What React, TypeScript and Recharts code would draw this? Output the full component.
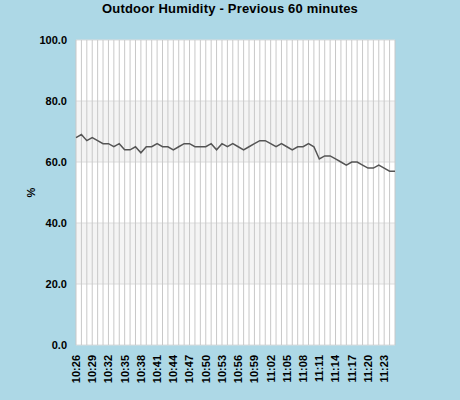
import React from "react";
import {
  LineChart,
  Line,
  XAxis,
  YAxis,
  CartesianGrid,
} from "recharts";

// minute stamps, 10:26 .. 11:25
const times = [
  "10:26", "10:27", "10:28", "10:29", "10:30", "10:31", "10:32", "10:33", "10:34", "10:35",
  "10:36", "10:37", "10:38", "10:39", "10:40", "10:41", "10:42", "10:43", "10:44", "10:45",
  "10:46", "10:47", "10:48", "10:49", "10:50", "10:51", "10:52", "10:53", "10:54", "10:55",
  "10:56", "10:57", "10:58", "10:59", "11:00", "11:01", "11:02", "11:03", "11:04", "11:05",
  "11:06", "11:07", "11:08", "11:09", "11:10", "11:11", "11:12", "11:13", "11:14", "11:15",
  "11:16", "11:17", "11:18", "11:19", "11:20", "11:21", "11:22", "11:23", "11:24", "11:25",
];

// outdoor humidity, %
const humidity = [
  68, 69, 67, 68, 67, 66, 66, 65, 66, 64,
  64, 65, 63, 65, 65, 66, 65, 65, 64, 65,
  66, 66, 65, 65, 65, 66, 64, 66, 65, 66,
  65, 64, 65, 66, 67, 67, 66, 65, 66, 65,
  64, 65, 65, 66, 65, 61, 62, 62, 61, 60,
  59, 60, 60, 59, 58, 58, 59, 58, 57, 57,
];

const yTicks = [0, 20, 40, 60, 80, 100];

const FONT = "'Liberation Sans', Arial, sans-serif";

const data = times.map((t, i) => ({ time: t, humidity: humidity[i] }));

function TimeTick({ x, y, payload }: any) {
  return (
    <g transform={`translate(${x},${y})`}>
      <text
        transform="rotate(-90)"
        textAnchor="end"
        dy="0.35em"
        fontFamily={FONT}
        fontSize={11}
        fontWeight="bold"
        fill="#000"
      >
        {payload.value}
      </text>
    </g>
  );
}

const NoTick = () => <g />;

export default function App() {
  return (
    <div
      style={{
        position: "absolute",
        left: 0,
        top: 0,
        width: 460,
        height: 400,
        background: "#add8e6",
        fontFamily: FONT,
      }}
    >
      <div
        style={{
          position: "absolute",
          top: 1,
          left: 0,
          width: 460,
          textAlign: "center",
          fontSize: 13,
          fontWeight: "bold",
          color: "#000",
          letterSpacing: 0.2,
        }}
      >
        Outdoor Humidity - Previous 60 minutes
      </div>
      <LineChart
        width={460}
        height={400}
        data={data}
        margin={{ top: 40, right: 65, left: 0, bottom: 0 }}
      >
        <CartesianGrid
          vertical={false}
          stroke="#dcdcdc"
          fill="#ffffff"
          horizontalFill={["#ffffff", "#f4f4f4"]}
          fillOpacity={1}
        />
        {/* one vertical line per minute, labels only every third */}
        <CartesianGrid horizontal={false} xAxisId="grid" stroke="#c8c8c8" />
        <XAxis
          dataKey="time"
          interval={2}
          height={55}
          axisLine={false}
          tickLine={false}
          tickSize={0}
          tickMargin={10}
          tick={<TimeTick />}
        />
        <XAxis
          xAxisId="grid"
          dataKey="time"
          interval={0}
          height={0}
          axisLine={false}
          tickLine={false}
          tick={<NoTick />}
        />
        <YAxis
          domain={[0, 100]}
          ticks={yTicks}
          width={76}
          axisLine={false}
          tickLine={false}
          tickSize={0}
          tickMargin={9}
          tickFormatter={(v: number) => v.toFixed(1)}
          tick={{ fontSize: 11, fontWeight: "bold", fill: "#000", fontFamily: FONT }}
          label={{
            value: "%",
            angle: -90,
            position: "insideLeft",
            offset: 31,
            style: { textAnchor: "middle", fontSize: 11, fontWeight: "bold", fill: "#000", fontFamily: FONT },
          }}
        />
        <Line
          type="linear"
          dataKey="humidity"
          stroke="#555555"
          strokeWidth={1.5}
          dot={false}
          isAnimationActive={false}
        />
      </LineChart>
    </div>
  );
}
